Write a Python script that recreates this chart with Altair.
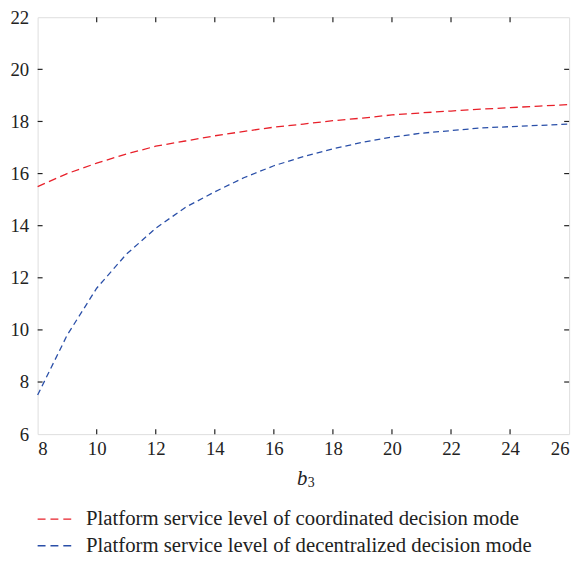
import altair as alt
import pandas as pd

b3 = [8, 9, 10, 11, 12, 13, 14, 15, 16, 17, 18, 19, 20, 21, 22, 23, 24, 25, 26]
coordinated = [15.5, 16.0, 16.4, 16.75, 17.05, 17.25, 17.45, 17.62, 17.78, 17.9,
               18.03, 18.13, 18.25, 18.33, 18.4, 18.47, 18.53, 18.59, 18.65]
decentralized = [7.5, 9.8, 11.6, 12.9, 13.9, 14.7, 15.3, 15.85, 16.3, 16.65,
                 16.95, 17.2, 17.4, 17.55, 17.65, 17.75, 17.8, 17.85, 17.9]
series_names = ["Platform service level of coordinated decision mode",
                "Platform service level of decentralized decision mode"]
series_colors = ["#e8202a", "#2a4fa8"]
series_dash = [[8, 4.5], [6, 4]]
x_ticks = [8, 10, 12, 14, 16, 18, 20, 22, 24, 26]
y_ticks = [6, 8, 10, 12, 14, 16, 18, 20, 22]

W, H = 538, 422
FONT = "Liberation Serif, Times New Roman, DejaVu Serif, serif"

xs = alt.Scale(domain=[8, 26], nice=False, zero=False)
ys = alt.Scale(domain=[6, 22], nice=False, zero=False)

xaxis = alt.Axis(values=x_ticks, tickSize=0, domain=False, grid=False,
                 labelFont=FONT, labelFontSize=19, labelColor="#222",
                 labelPadding=6, title=None)
yaxis = alt.Axis(values=y_ticks, tickSize=0, domain=False, grid=False,
                 labelFont=FONT, labelFontSize=19, labelColor="#222",
                 labelPadding=9, title=None)

layers = []
for i in range(2):
    d = pd.DataFrame({"b3": b3, "v": [coordinated, decentralized][i]})
    layers.append(
        alt.Chart(d).mark_line(strokeWidth=1.3, color=series_colors[i], strokeDash=series_dash[i]).encode(
            x=alt.X("b3:Q", scale=xs, axis=xaxis),
            y=alt.Y("v:Q", scale=ys, axis=yaxis),
        )
    )

xt = pd.DataFrame({"t": x_ticks[1:-1]})
yt = pd.DataFrame({"t": y_ticks[1:-1]})
tick_style = dict(color="#222", strokeWidth=1.2)
layers += [
    alt.Chart(xt).mark_rule(**tick_style).encode(x=alt.X("t:Q", scale=xs, axis=xaxis), y=alt.value(H), y2=alt.value(H - 5)),
    alt.Chart(xt).mark_rule(**tick_style).encode(x=alt.X("t:Q", scale=xs, axis=xaxis), y=alt.value(0), y2=alt.value(5)),
    alt.Chart(yt).mark_rule(**tick_style).encode(y=alt.Y("t:Q", scale=ys, axis=yaxis), x=alt.value(0), x2=alt.value(5)),
    alt.Chart(yt).mark_rule(**tick_style).encode(y=alt.Y("t:Q", scale=ys, axis=yaxis), x=alt.value(W), x2=alt.value(W - 5)),
]

# axis title b_3 (italic b, upright subscript 3)
layers.append(alt.Chart(pd.DataFrame({"t": ["b"]})).mark_text(
    font=FONT, fontSize=21, fontStyle="italic", color="#222", align="right", baseline="alphabetic"
).encode(text="t:N", x=alt.value(273), y=alt.value(473)))
layers.append(alt.Chart(pd.DataFrame({"t": ["3"]})).mark_text(
    font=FONT, fontSize=14, color="#222", align="left", baseline="alphabetic"
).encode(text="t:N", x=alt.value(273.5), y=alt.value(476)))

# legend
leg_y = [508, 535]
for i in range(2):
    layers.append(alt.Chart(pd.DataFrame({"s": [series_names[i]]})).mark_rule(
        color=series_colors[i], strokeDash=[8, 5], strokeWidth=1.3
    ).encode(x=alt.value(0), x2=alt.value(34), y=alt.value(leg_y[i])))
    layers.append(alt.Chart(pd.DataFrame({"s": [series_names[i]]})).mark_text(
        font=FONT, fontSize=21, color="#222", align="left", baseline="middle"
    ).encode(text="s:N", x=alt.value(49), y=alt.value(leg_y[i])))

chart = alt.layer(*layers).properties(
    width=W, height=H,
    autosize=alt.AutoSizeParams(type="none"),
    padding={"left": 30, "top": 6, "right": 10, "bottom": 119},
).configure_view(stroke="#222", strokeWidth=1.5).configure(background="white")

chart.save("out.html", embed_options={"renderer": "svg", "actions": False})
